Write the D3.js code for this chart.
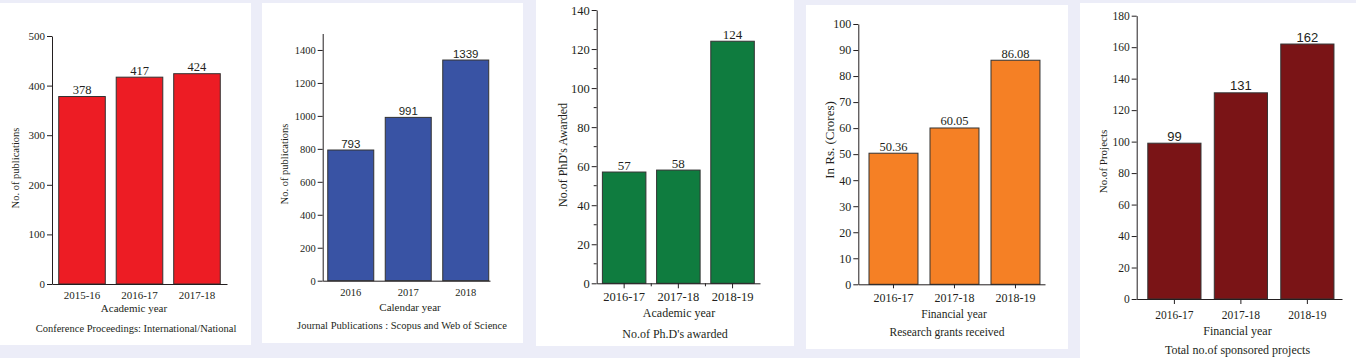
<!DOCTYPE html>
<html>
<head>
<meta charset="utf-8">
<script src="https://cdn.jsdelivr.net/npm/d3@7"></script>
<style>
  body { margin: 0; background: #ecedf8; }
  svg { display: block; }
</style>
</head>
<body>
<svg id="chart"></svg>
<script>
// values
var confYears = ["2015-16", "2016-17", "2017-18"];
var confPubs = [378, 417, 424];
var confTicks = [0, 100, 200, 300, 400, 500];

var journalYears = ["2016", "2017", "2018"];
var journalPubs = [793, 991, 1339];
var journalTicks = [0, 200, 400, 600, 800, 1000, 1200, 1400];

var phdYears = ["2016-17", "2017-18", "2018-19"];
var phdAwarded = [57, 58, 124];
var phdTicks = [0, 20, 40, 60, 80, 100, 120, 140];
var phdMinor = [10, 30, 50, 70, 90, 110, 130];

var grantYears = ["2016-17", "2017-18", "2018-19"];
var grantCrores = [50.36, 60.05, 86.08];
var grantTicks = [0, 10, 20, 30, 40, 50, 60, 70, 80, 90, 100];

var projectYears = ["2016-17", "2017-18", "2018-19"];
var projectCount = [99, 131, 162];
var projectTicks = [0, 20, 40, 60, 80, 100, 120, 140, 160, 180];

var serif = "'Liberation Serif', 'Times New Roman', serif";
var sans = "'Liberation Sans', Arial, sans-serif";
var ink = "#231f20";

var svg = d3.select("#chart").attr("width", 1356).attr("height", 358);
svg.append("rect").attr("width", 1356).attr("height", 358).attr("fill", "#ecedf8");

var panels = [
  { cats: confYears, values: confPubs, ticks: confTicks, color: "#ed1c24",
    card: [0, 3, 251, 342], xRange: [52, 227], pad: [0.19, 0.117, 0.5],
    yDomain: [0, 500], yRange: [284, 36], tickFs: 11, xTick: 0, xLabelBase: 298.5,
    valueFont: serif, valueFs: 12.5,
    xTitle: "Academic year", xTitleX: 134, xTitleBase: 312, xTitleFs: 11,
    caption: "Conference Proceedings: International/National", capX: 136, capBase: 332, capFs: 10.5,
    yTitle: "No. of publications", yTitleX: 15, yTitleY: 168, yTitleFs: 10.5 },
  { cats: journalYears, values: journalPubs, ticks: journalTicks, color: "#3953a4",
    card: [262, 3, 261, 340], xRange: [322.7, 490], pad: [0.2, 0.055, 0.8],
    yDomain: [0, 1500], yRange: [280.7, 33.5], tickFs: 10.5, xTick: 0, xLabelBase: 296,
    valueFont: sans, valueFs: 11.5,
    xTitle: "Calendar year", xTitleX: 410, xTitleBase: 311, xTitleFs: 11,
    caption: "Journal Publications : Scopus and Web of Science", capX: 402, capBase: 329, capFs: 10.5,
    yTitle: "No. of publications", yTitleX: 284.3, yTitleY: 164, yTitleFs: 10.5 },
  { cats: phdYears, values: phdAwarded, ticks: phdTicks, minor: phdMinor, color: "#0f7c3f",
    card: [536, 0, 258, 346], xRange: [596.7, 760], pad: [0.197, 0.105, 0.5],
    yDomain: [0, 140], yRange: [283.3, 10], tickFs: 12.5, xTick: 5, xMinor: true, xLabelBase: 301,
    valueFont: serif, valueFs: 13,
    xTitle: "Academic year", xTitleX: 679, xTitleBase: 317, xTitleFs: 12,
    caption: "No.of Ph.D's awarded", capX: 675, capBase: 338, capFs: 12,
    yTitle: "No.of PhD's Awarded", yTitleX: 563, yTitleY: 155, yTitleFs: 12 },
  { cats: grantYears, values: grantCrores, ticks: grantTicks, color: "#f58025",
    card: [806, 5, 262, 344], xRange: [858.3, 1045], pad: [0.197, 0.129, 0.68],
    yDomain: [0, 100], yRange: [284.3, 24], tickFs: 12, xTick: 4, xLabelBase: 302,
    valueFont: serif, valueFs: 12.5,
    xTitle: "Financial year", xTitleX: 954, xTitleBase: 318, xTitleFs: 11.5,
    caption: "Research grants received", capX: 947, capBase: 336, capFs: 11.5,
    yTitle: "In Rs. (Crores)", yTitleX: 829, yTitleY: 140, yTitleFs: 13 },
  { cats: projectYears, values: projectCount, ticks: projectTicks, color: "#7a1416",
    card: [1080, 3, 276, 355], xRange: [1136.7, 1342], pad: [0.2, 0.144, 0.58],
    yDomain: [0, 180], yRange: [299, 15.7], tickFs: 11.5, xTick: 5, xLabelBase: 319,
    valueFont: sans, valueFs: 13,
    xTitle: "Financial year", xTitleX: 1237.5, xTitleBase: 335, xTitleFs: 12,
    caption: "Total no.of sponsored projects", capX: 1237.5, capBase: 354, capFs: 12,
    yTitle: "No.of Projects", yTitleX: 1103, yTitleY: 161.5, yTitleFs: 11 }
];

panels.forEach(drawPanel);

function drawPanel(p) {
  var g = svg.append("g");

  g.append("rect")
    .attr("x", p.card[0]).attr("y", p.card[1])
    .attr("width", p.card[2]).attr("height", p.card[3])
    .attr("fill", "#fff");

  var x = d3.scaleBand().domain(p.cats).range(p.xRange)
    .paddingInner(p.pad[0]).paddingOuter(p.pad[1]).align(p.pad[2]);
  var y = d3.scaleLinear().domain(p.yDomain).range(p.yRange);

  // bars
  g.selectAll(".bar").data(p.values).enter().append("rect")
    .attr("class", "bar")
    .attr("x", function(d, i) { return x(p.cats[i]); })
    .attr("y", function(d) { return y(d); })
    .attr("width", x.bandwidth())
    .attr("height", function(d) { return y(0) - y(d); })
    .attr("fill", p.color)
    .attr("stroke", "#333")
    .attr("stroke-width", 1);

  // value labels
  g.selectAll(".val").data(p.values).enter().append("text")
    .attr("x", function(d, i) { return x(p.cats[i]) + x.bandwidth() / 2; })
    .attr("y", function(d) { return y(d) - 2.5; })
    .attr("text-anchor", "middle")
    .style("font-family", p.valueFont)
    .style("font-size", p.valueFs + "px")
    .attr("fill", ink)
    .text(function(d) { return d; });

  // y axis
  var ya = g.append("g")
    .attr("transform", "translate(" + p.xRange[0] + ",0)")
    .call(d3.axisLeft(y).tickValues(p.ticks).tickFormat(d3.format("d"))
      .tickSize(5).tickPadding(2).tickSizeOuter(0));
  ya.attr("font-family", serif);
  ya.selectAll("text").style("font-family", serif).style("font-size", p.tickFs + "px").attr("fill", ink);
  ya.selectAll("line,path").attr("stroke", ink);

  if (p.minor) {
    ya.selectAll(".minor").data(p.minor).enter().append("line")
      .attr("x1", -3).attr("x2", 0)
      .attr("y1", function(d) { return y(d); })
      .attr("y2", function(d) { return y(d); })
      .attr("stroke", ink);
  }

  // x axis
  var y0 = y(0);
  var xa = g.append("g")
    .attr("transform", "translate(0," + y0 + ")")
    .call(d3.axisBottom(x).tickSize(p.xTick).tickSizeOuter(0));
  xa.attr("font-family", serif);
  xa.selectAll("text")
    .attr("y", p.xLabelBase - y0).attr("dy", null)
    .style("font-family", serif).style("font-size", p.tickFs + "px").attr("fill", ink);
  xa.selectAll("line,path").attr("stroke", ink);

  if (p.xMinor) {
    var mids = p.cats.slice(1).map(function(c) { return x(c) - x.step() * x.paddingInner() / 2; });
    xa.selectAll(".xminor").data(mids).enter().append("line")
      .attr("x1", function(d) { return d; }).attr("x2", function(d) { return d; })
      .attr("y1", 0).attr("y2", 3)
      .attr("stroke", ink);
  }

  // titles
  g.append("text")
    .attr("x", p.xTitleX).attr("y", p.xTitleBase)
    .attr("text-anchor", "middle")
    .style("font-family", serif).style("font-size", p.xTitleFs + "px")
    .attr("fill", ink)
    .text(p.xTitle);

  g.append("text")
    .attr("x", p.capX).attr("y", p.capBase)
    .attr("text-anchor", "middle")
    .style("font-family", serif).style("font-size", p.capFs + "px")
    .attr("fill", ink)
    .text(p.caption);

  g.append("text")
    .attr("transform", "translate(" + p.yTitleX + "," + p.yTitleY + ") rotate(-90)")
    .attr("text-anchor", "middle")
    .attr("dy", "0.35em")
    .style("font-family", serif).style("font-size", p.yTitleFs + "px")
    .attr("fill", ink)
    .text(p.yTitle);
}
</script>
</body>
</html>
